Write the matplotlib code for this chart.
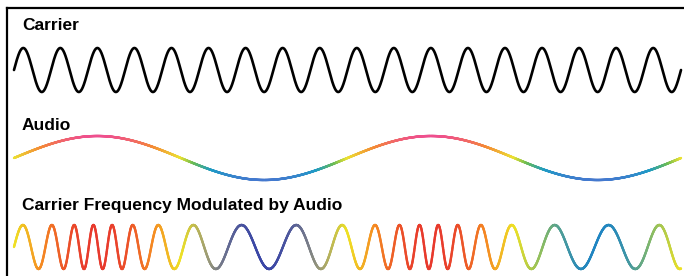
import numpy as np
import matplotlib
matplotlib.use("Agg")
import matplotlib.pyplot as plt
from matplotlib.collections import LineCollection
from matplotlib.colors import LinearSegmentedColormap

# wave settings
carrier_cycles = 18       # full carrier periods across the width
audio_cycles = 2          # full audio periods across the width
mod_depth = 0.5           # carrier period shrinks/grows by this fraction
n_points = 3000

labels = ["Carrier", "Audio", "Carrier Frequency Modulated by Audio"]

# colour stops (value from -1 to 1 -> colour)
audio_stops = [(0.0, "#4479cf"), (0.22, "#1f9bc6"), (0.38, "#6dbd54"),
               (0.5, "#ece332"), (0.75, "#f48a35"), (1.0, "#ef4f8e")]
warm_stops = [(0.0, "#efe224"), (0.5, "#f58a22"), (1.0, "#e8392c")]
navy_stops = [(0.0, "#3a46a6"), (0.5, "#9a9a78"), (1.0, "#efe224")]
teal_stops = [(0.0, "#1f85c2"), (0.5, "#8cbd62"), (1.0, "#efe224")]


def colored_line(ax, x, y, colors, lw):
    pts = np.column_stack([x, y]).reshape(-1, 1, 2)
    segs = np.concatenate([pts[:-1], pts[1:]], axis=1)
    lc = LineCollection(segs, colors=colors, linewidths=lw, capstyle="round")
    ax.add_collection(lc)


def main():
    t = np.linspace(0, 1, n_points)
    carrier = np.sin(2 * np.pi * carrier_cycles * t)
    audio = np.sin(2 * np.pi * audio_cycles * t)
    # period modulation: higher audio -> shorter period
    inst = carrier_cycles / (1 - mod_depth * audio)
    phase = np.concatenate([[0], np.cumsum((inst[1:] + inst[:-1]) / 2 * np.diff(t))])
    fm = np.sin(2 * np.pi * phase)

    fig = plt.figure(figsize=(6.84, 2.76), dpi=100)
    ax = fig.add_axes([7 / 684, 0, 1 - 7 / 684, 268 / 276])
    ax.set_xlim(7, 684)
    ax.set_ylim(276, 8)
    for s in ["right", "bottom"]:
        ax.spines[s].set_visible(False)
    for s in ["left", "top"]:
        ax.spines[s].set_linewidth(1.6)
    ax.set_xticks([])
    ax.set_yticks([])

    x0, x1 = 14, 681
    amp = 22
    x = x0 + (x1 - x0) * t

    ax.plot(x, 70 - amp * carrier, color="black", lw=1.9, solid_capstyle="round")

    audio_cmap = LinearSegmentedColormap.from_list("audio", audio_stops)
    a_mid = (audio[1:] + audio[:-1]) / 2
    colored_line(ax, x, 158 - amp * audio, audio_cmap((a_mid + 1) / 2), 1.7)

    warm = LinearSegmentedColormap.from_list("warm", warm_stops)
    navy = LinearSegmentedColormap.from_list("navy", navy_stops)
    teal = LinearSegmentedColormap.from_list("teal", teal_stops)
    t_mid = (t[1:] + t[:-1]) / 2
    fm_colors = np.where(
        (a_mid >= 0)[:, None], warm(np.clip(a_mid, 0, 1)),
        np.where((t_mid < 0.5)[:, None], navy(np.clip(a_mid + 1, 0, 1)),
                 teal(np.clip(a_mid + 1, 0, 1))))
    colored_line(ax, x, 247 - amp * fm, fm_colors, 1.7)

    font = dict(family=["Liberation Sans", "DejaVu Sans"], fontsize=12.5,
                fontweight="bold", va="baseline", ha="left")
    ax.text(22, 30, labels[0], **font)
    ax.text(22, 130, labels[1], **font)
    ax.text(22, 210, labels[2], **font)

    fig.savefig("out.png", dpi=100)


if __name__ == "__main__":
    main()
